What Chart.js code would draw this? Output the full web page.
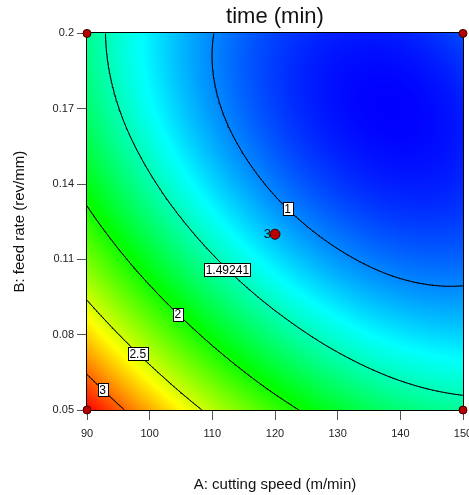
<!DOCTYPE html>
<html><head><meta charset="utf-8">
<script src="https://cdn.jsdelivr.net/npm/chart.js@4.4.1/dist/chart.umd.min.js"></script>
<style>html,body{margin:0;padding:0;background:#fff;}</style>
</head><body>
<canvas id="c" width="469" height="495" style="display:block;width:469px;height:495px"></canvas>
<script>
// ---- data ----
const speedA = [90, 100, 110, 120, 130, 140, 150];          // A: cutting speed (m/min)
const feedB  = [0.05, 0.08, 0.11, 0.14, 0.17, 0.2];         // B: feed rate (rev/mm)
// estimated time (min) along A for each feed rate
const time_f005 = [3.270, 2.829, 2.439, 2.108, 1.847, 1.665, 1.574];
const time_f008 = [2.722, 2.300, 1.932, 1.627, 1.396, 1.249, 1.195];
const time_f011 = [2.263, 1.861, 1.517, 1.240, 1.041, 0.929, 0.914];
const time_f014 = [1.910, 1.531, 1.213, 0.965, 0.800, 0.725, 0.751];
const time_f017 = [1.683, 1.327, 1.036, 0.820, 0.689, 0.654, 0.723];
const time_f020 = [1.597, 1.267, 1.005, 0.823, 0.729, 0.733, 0.847];
const xTicks = [90, 100, 110, 120, 130, 140, 150];
const yTicks = [0.05, 0.08, 0.11, 0.14, 0.17, 0.2];
const yTickLabels = ['0.05', '0.08', '0.11', '0.14', '0.17', '0.2'];
const contourLevels = [1, 1.49241, 2, 2.5, 3];
const contourLabelAtA = [122, 112.4, 104.5, 98.1, 92.5];
const designA = [90, 150, 90, 150, 120];
const designB = [0.05, 0.05, 0.2, 0.2, 0.12];
const designReps = [1, 1, 1, 1, 3];

const FONT = '"Liberation Sans", Arial, Helvetica, sans-serif';
const fieldRows = [time_f005, time_f008, time_f011, time_f014, time_f017, time_f020];

// smooth (cubic convolution) rendering of the grid
function ext(arr, k) {
  const n = arr.length;
  if (k < 0) return 3 * arr[0] - 3 * arr[1] + arr[2];
  if (k >= n) return 3 * arr[n - 1] - 3 * arr[n - 2] + arr[n - 3];
  return arr[k];
}
function cr(p0, p1, p2, p3, t) {
  return 0.5 * (2 * p1 + (-p0 + p2) * t + (2 * p0 - 5 * p1 + 4 * p2 - p3) * t * t + (-p0 + 3 * p1 - 3 * p2 + p3) * t * t * t);
}
function interp1(arr, u) {
  const n = arr.length;
  let i = Math.floor(u); if (i < 0) i = 0; if (i > n - 2) i = n - 2;
  const t = u - i;
  return cr(ext(arr, i - 1), arr[i], arr[i + 1], ext(arr, i + 2), t);
}
function field(A, B) {
  const u = (A - speedA[0]) / (speedA[1] - speedA[0]);
  const v = (B - feedB[0]) / (feedB[1] - feedB[0]);
  const col = fieldRows.map(r => interp1(r, u));
  return interp1(col, v);
}

// contour segments by marching squares on the field
const aMin = speedA[0], aMax = speedA[speedA.length - 1];
const bMin = feedB[0], bMax = feedB[feedB.length - 1];
const NS = 160;
const samp = [];
for (let j = 0; j <= NS; j++) {
  const row = [];
  const B = bMin + (bMax - bMin) * j / NS;
  for (let i = 0; i <= NS; i++) row.push(field(aMin + (aMax - aMin) * i / NS, B));
  samp.push(row);
}
function contourData(L) {
  const out = [];
  const ax = i => aMin + (aMax - aMin) * i / NS;
  const by = j => bMin + (bMax - bMin) * j / NS;
  for (let j = 0; j < NS; j++) {
    for (let i = 0; i < NS; i++) {
      const c = [[i, j], [i + 1, j], [i + 1, j + 1], [i, j + 1]];
      const v = c.map(p => samp[p[1]][p[0]]);
      const pts = [];
      for (let e = 0; e < 4; e++) {
        const a = e, b = (e + 1) % 4;
        if ((v[a] >= L) !== (v[b] >= L)) {
          const t = (L - v[a]) / (v[b] - v[a]);
          const gi = c[a][0] + (c[b][0] - c[a][0]) * t;
          const gj = c[a][1] + (c[b][1] - c[a][1]) * t;
          pts.push({ x: ax(gi), y: by(gj) });
        }
      }
      for (let k = 0; k + 1 < pts.length; k += 2) {
        out.push(pts[k], pts[k + 1], { x: pts[k].x, y: null });
      }
    }
  }
  return out;
}
function findB(A, L) {
  const N = 600;
  let prev = field(A, bMin);
  for (let k = 1; k <= N; k++) {
    const B = bMin + (bMax - bMin) * k / N;
    const cur = field(A, B);
    if ((prev >= L) !== (cur >= L)) {
      const B0 = B - (bMax - bMin) / N;
      return B0 + (B - B0) * (L - prev) / (cur - prev);
    }
    prev = cur;
  }
  return null;
}

const stops = [[0, 0, 255], [0, 255, 255], [0, 255, 0], [255, 255, 0], [255, 0, 0]];
function colorFor(f) {
  f = Math.max(0, Math.min(1, f));
  const s = f * 4; const i = Math.min(3, Math.floor(s)); const t = s - i;
  const a = stops[i], b = stops[i + 1];
  return [a[0] + (b[0] - a[0]) * t, a[1] + (b[1] - a[1]) * t, a[2] + (b[2] - a[2]) * t];
}

const surfacePlugin = {
  id: 'surface',
  beforeDatasetsDraw(chart) {
    const { ctx, chartArea } = chart;
    const xs = chart.scales.x, ys = chart.scales.y;
    const w = Math.round(chartArea.right - chartArea.left);
    const h = Math.round(chartArea.bottom - chartArea.top);
    const vals = new Float32Array(w * h);
    let vmin = Infinity, vmax = -Infinity;
    for (let py = 0; py < h; py++) {
      const B = ys.getValueForPixel(chartArea.top + (py + 0.5) * (chartArea.bottom - chartArea.top) / h);
      for (let px = 0; px < w; px++) {
        const A = xs.getValueForPixel(chartArea.left + (px + 0.5) * (chartArea.right - chartArea.left) / w);
        const v = field(A, B);
        vals[py * w + px] = v;
        if (v < vmin) vmin = v; if (v > vmax) vmax = v;
      }
    }
    const off = document.createElement('canvas');
    off.width = w; off.height = h;
    const octx = off.getContext('2d');
    const img = octx.createImageData(w, h);
    for (let k = 0; k < w * h; k++) {
      const c = colorFor((vals[k] - vmin) / (vmax - vmin));
      img.data[k * 4] = c[0]; img.data[k * 4 + 1] = c[1]; img.data[k * 4 + 2] = c[2]; img.data[k * 4 + 3] = 255;
    }
    octx.putImageData(img, 0, 0);
    ctx.save();
    ctx.drawImage(off, chartArea.left, chartArea.top, chartArea.right - chartArea.left, chartArea.bottom - chartArea.top);
    ctx.strokeStyle = '#000'; ctx.lineWidth = 1;
    ctx.strokeRect(Math.round(chartArea.left) - 0.5, Math.round(chartArea.top) - 0.5,
      Math.round(chartArea.right - chartArea.left) + 1, Math.round(chartArea.bottom - chartArea.top) + 1);
    ctx.restore();
  },
  afterDatasetsDraw(chart) {
    const ctx = chart.ctx;
    const xs = chart.scales.x, ys = chart.scales.y;
    ctx.save();
    ctx.font = '12px ' + FONT;
    ctx.textAlign = 'center'; ctx.textBaseline = 'middle';
    contourLevels.forEach((L, k) => {
      const A = contourLabelAtA[k];
      const B = findB(A, L);
      if (B === null) return;
      const px = xs.getPixelForValue(A), py = ys.getPixelForValue(B);
      const txt = String(L);
      const w = Math.round(ctx.measureText(txt).width) + 3, h = 13;
      const x0 = Math.round(px - w / 2) + 0.5, y0 = Math.round(py - h / 2) + 0.5;
      ctx.fillStyle = '#fff'; ctx.fillRect(x0, y0, w, h);
      ctx.strokeStyle = '#000'; ctx.lineWidth = 1; ctx.strokeRect(x0, y0, w, h);
      ctx.fillStyle = '#000'; ctx.fillText(txt, px, py + 1);
    });
    ctx.textAlign = 'right';
    ctx.font = '13px ' + FONT;
    designA.forEach((a, i) => {
      if (designReps[i] > 1) {
        ctx.fillStyle = '#111';
        ctx.fillText(String(designReps[i]), xs.getPixelForValue(a) - 4, ys.getPixelForValue(designB[i]));
      }
    });
    ctx.restore();
  }
};

const datasets = contourLevels.map(L => ({
  type: 'line', label: 'time = ' + L, data: contourData(L),
  borderColor: '#000', borderWidth: 1, pointRadius: 0, tension: 0, spanGaps: false,
  borderCapStyle: 'round', borderJoinStyle: 'round', order: 2
}));
datasets.push({
  type: 'scatter', label: 'design points',
  data: designA.map((a, i) => ({ x: a, y: designB[i] })),
  pointRadius: designReps.map(r => r > 1 ? 5 : 4),
  pointBackgroundColor: '#b80000', pointBorderColor: '#3a0000', pointBorderWidth: 1,
  clip: false, order: 0
});

new Chart(document.getElementById('c'), {
  type: 'scatter',
  data: { datasets },
  plugins: [surfacePlugin],
  options: {
    responsive: false, animation: false, events: [],
    layout: { padding: { left: 0, right: 5, top: 0, bottom: 0 } },
    plugins: {
      legend: { display: false }, tooltip: { enabled: false },
      title: {
        display: true, text: 'time (min)', fullSize: false, color: '#111',
        font: { family: FONT, size: 22, weight: 'normal' }, padding: { top: 4, bottom: 3 }
      }
    },
    scales: {
      x: {
        type: 'linear', min: 90, max: 150,
        afterBuildTicks: s => { s.ticks = xTicks.map(v => ({ value: v })); },
        ticks: { font: { family: FONT, size: 11 }, color: '#222', padding: 7, maxRotation: 0, autoSkip: false, callback: v => String(v) },
        grid: { drawOnChartArea: false, drawTicks: true, tickLength: 10, color: '#555' },
        border: { display: true, color: '#000' },
        title: { display: true, text: 'A: cutting speed (m/min)', color: '#111', font: { family: FONT, size: 15 }, padding: { top: 0, bottom: 1 } },
        afterFit: s => { s.height = 85; s.paddingLeft = 0; s.paddingRight = 0; }
      },
      y: {
        type: 'linear', min: 0.05, max: 0.2,
        afterBuildTicks: s => { s.ticks = yTicks.map(v => ({ value: v })); },
        ticks: { font: { family: FONT, size: 11 }, color: '#222', padding: 3, autoSkip: false, callback: v => yTickLabels[yTicks.indexOf(v)] },
        grid: { drawOnChartArea: false, drawTicks: true, tickLength: 10, color: '#555' },
        border: { display: true, color: '#000' },
        title: { display: true, text: 'B: feed rate (rev/mm)', color: '#111', font: { family: FONT, size: 15 }, padding: { top: 11, bottom: 0 } },
        afterFit: s => { s.width = 87; s.paddingTop = 0; s.paddingBottom = 0; }
      }
    }
  }
});
</script>
</body></html>
